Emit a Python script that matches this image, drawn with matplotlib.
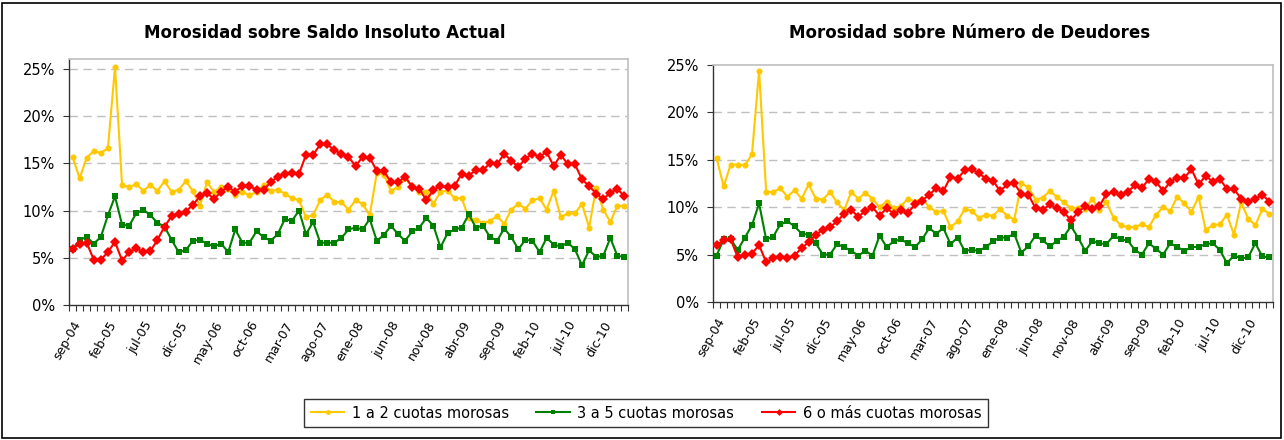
import matplotlib
matplotlib.use("Agg")
import matplotlib.pyplot as plt
from matplotlib.patches import Rectangle
from matplotlib.ticker import FixedLocator, PercentFormatter

# ---- data (percent), monthly sep-04 .. mar-11 ----
n_points = 79
tick_labels = ['sep-04', 'feb-05', 'jul-05', 'dic-05', 'may-06', 'oct-06', 'mar-07', 'ago-07',
               'ene-08', 'jun-08', 'nov-08', 'abr-09', 'sep-09', 'feb-10', 'jul-10', 'dic-10']

series_names = ['1 a 2 cuotas morosas', '3 a 5 cuotas morosas', '6 o más cuotas morosas']

saldo_1a2 = [15.7, 13.4, 15.6, 16.3, 16.1, 16.6, 25.2, 12.7, 12.5, 12.8, 12.1, 12.7, 12.1, 13.1, 12.0,
             12.2, 13.1, 12.1, 10.5, 13.0, 12.0, 12.5, 12.3, 11.7, 12.0, 11.6, 12.0, 12.7, 12.1, 12.2,
             11.8, 11.3, 11.1, 9.3, 9.5, 11.1, 11.7, 10.9, 10.9, 10.1, 11.1, 10.7, 9.5, 14.0, 13.8,
             12.1, 12.5, 13.4, 12.6, 12.0, 12.0, 10.7, 12.0, 12.1, 11.3, 11.3, 9.2, 9.0, 8.7, 8.9,
             9.4, 8.6, 10.1, 10.7, 10.2, 11.1, 11.3, 10.1, 12.1, 9.3, 9.7, 9.7, 10.7, 8.2, 12.4,
             10.1, 8.8, 10.5, 10.5]
saldo_3a5 = [5.9, 6.9, 7.2, 6.5, 7.2, 9.5, 11.5, 8.5, 8.4, 9.7, 10.1, 9.5, 8.7, 8.3, 6.9,
             5.6, 5.8, 6.8, 6.9, 6.5, 6.2, 6.5, 5.6, 8.0, 6.6, 6.6, 7.8, 7.2, 6.8, 7.5,
             9.1, 8.9, 10.0, 7.5, 8.8, 6.6, 6.6, 6.6, 7.1, 8.0, 8.2, 8.0, 9.1, 6.8, 7.4,
             8.4, 7.5, 6.8, 7.8, 8.2, 9.2, 8.4, 6.1, 7.6, 8.0, 8.2, 9.6, 8.2, 8.4, 7.2,
             6.8, 8.1, 7.2, 5.9, 6.9, 6.8, 5.6, 7.1, 6.4, 6.2, 6.6, 5.9, 4.2, 5.8, 5.1,
             5.2, 7.1, 5.2, 5.1]
saldo_6mas = [5.9, 6.5, 6.6, 4.8, 4.8, 5.6, 6.7, 4.7, 5.6, 6.0, 5.6, 5.7, 6.9, 8.3, 9.4,
              9.6, 9.9, 10.6, 11.5, 11.9, 11.2, 12.0, 12.5, 12.0, 12.6, 12.6, 12.2, 12.2, 13.0, 13.6,
              13.9, 14.0, 13.9, 15.9, 15.9, 17.0, 17.0, 16.4, 16.0, 15.7, 14.7, 15.7, 15.6, 14.2, 14.2,
              13.0, 13.0, 13.6, 12.5, 12.3, 11.1, 12.2, 12.6, 12.5, 12.6, 13.9, 13.7, 14.3, 14.3, 15.0,
              14.9, 16.0, 15.3, 14.6, 15.5, 16.0, 15.7, 16.2, 14.7, 15.9, 14.9, 14.9, 13.3, 12.6, 11.8,
              11.2, 11.9, 12.3, 11.5]

deud_1a2 = [15.2, 12.2, 14.5, 14.5, 14.4, 15.6, 24.4, 11.6, 11.6, 12.0, 11.1, 11.8, 10.9, 12.4, 10.9,
            10.8, 11.6, 10.5, 9.7, 11.6, 10.9, 11.5, 10.9, 10.0, 10.6, 9.9, 10.1, 10.9, 10.6, 10.9,
            10.0, 9.5, 9.6, 7.9, 8.5, 9.8, 9.6, 8.9, 9.2, 9.1, 9.8, 9.1, 8.7, 12.5, 12.1,
            10.8, 11.0, 11.7, 11.1, 10.5, 9.9, 9.9, 9.8, 10.9, 9.7, 10.5, 8.9, 8.1, 7.9, 7.9,
            8.2, 7.9, 9.2, 10.0, 9.6, 11.1, 10.4, 9.5, 11.1, 7.6, 8.1, 8.2, 9.2, 7.1, 10.5,
            8.8, 8.1, 9.8, 9.3]
deud_3a5 = [4.9, 6.6, 6.6, 5.5, 6.8, 8.1, 10.4, 6.6, 6.9, 8.2, 8.5, 8.0, 7.2, 7.1, 6.2,
            5.0, 5.0, 6.1, 5.8, 5.4, 4.9, 5.4, 4.9, 7.0, 5.8, 6.4, 6.6, 6.2, 5.8, 6.6,
            7.8, 7.2, 7.8, 6.1, 6.8, 5.4, 5.5, 5.4, 5.8, 6.4, 6.8, 6.8, 7.2, 5.2, 5.9,
            7.0, 6.5, 5.9, 6.4, 6.9, 8.0, 6.8, 5.4, 6.4, 6.2, 6.1, 7.0, 6.6, 6.5, 5.5,
            5.0, 6.2, 5.6, 5.0, 6.2, 5.8, 5.4, 5.8, 5.8, 6.1, 6.2, 5.5, 4.1, 4.9, 4.6,
            4.7, 6.2, 4.8, 4.7]
deud_6mas = [6.0, 6.5, 6.6, 4.7, 5.0, 5.1, 6.0, 4.2, 4.6, 4.7, 4.6, 4.9, 5.7, 6.3, 7.1,
             7.6, 7.9, 8.5, 9.3, 9.7, 9.0, 9.6, 10.0, 9.1, 9.9, 9.3, 9.7, 9.4, 10.3, 10.7,
             11.3, 12.0, 11.7, 13.2, 13.0, 13.9, 14.0, 13.6, 13.0, 12.8, 11.7, 12.4, 12.5, 11.4, 11.3,
             9.9, 9.7, 10.3, 9.9, 9.5, 8.6, 9.5, 10.1, 9.8, 10.1, 11.4, 11.6, 11.3, 11.6, 12.3,
             12.0, 13.0, 12.7, 11.7, 12.7, 13.1, 13.1, 14.0, 12.4, 13.3, 12.7, 13.0, 11.9, 11.9, 10.9,
             10.6, 10.9, 11.3, 10.6]

titles = ['Morosidad sobre Saldo Insoluto Actual', 'Morosidad sobre Número de Deudores']

colors = ['#FFC800', '#008000', '#FF0000']
markers = ['o', 's', 'D']
msizes = [4.4, 4.4, 4.6]

# ---- figure ----
W, H = 1284, 440
fig = plt.figure(figsize=(W / 100, H / 100), dpi=100)
plt.rcParams['font.family'] = ['DejaVu Sans']

x = list(range(n_points))


def ax_rect(x0, x1, ytop, ybot):
    return [x0 / W, 1 - ybot / H, (x1 - x0) / W, (ybot - ytop) / H]


ax_specs = [
    (ax_rect(69, 628, 59, 305), 26.05, [saldo_1a2, saldo_3a5, saldo_6mas]),
    (ax_rect(713, 1273, 65, 302), 25.0, [deud_1a2, deud_3a5, deud_6mas]),
]

axes = []
for rect, ytop, data in ax_specs:
    ax = fig.add_axes(rect)
    axes.append(ax)
    for vals, c, m, ms, name in zip(data, colors, markers, msizes, series_names):
        ax.plot(x, vals, color=c, marker=m, markersize=ms, linewidth=1.5,
                markeredgewidth=0, label=name, zorder=3)
    ax.set_xlim(-0.5, n_points - 0.5)
    ax.set_ylim(0, ytop)
    ax.yaxis.set_major_locator(FixedLocator([0, 5, 10, 15, 20, 25]))
    ax.yaxis.set_major_formatter(PercentFormatter(decimals=0))
    for g in [5, 10, 15, 20, 25]:
        if g < ytop - 0.05:
            ax.axhline(g, color='#BFBFBF', linewidth=1.0, linestyle=(0, (6, 4)), zorder=1)
    ax.set_xticks(list(range(0, 76, 5)))
    ax.set_xticklabels(tick_labels, rotation=60, ha='right', rotation_mode='anchor',
                       fontsize=9)
    ax.set_xticks([i - 0.5 for i in range(n_points + 1)], minor=True)
    ax.tick_params(axis='x', which='major', length=0, pad=10)
    ax.tick_params(axis='x', which='minor', length=4, width=0.8, direction='out', color='#333333')
    ax.tick_params(axis='y', which='major', length=4, width=0.8, direction='out',
                   labelsize=10.5, pad=6, color='#333333')
    for side in ['top', 'right']:
        ax.spines[side].set_color('#BFBFBF')
        ax.spines[side].set_linewidth(1.2)
    for side in ['left', 'bottom']:
        ax.spines[side].set_color('#333333')
        ax.spines[side].set_linewidth(1.0)

fig.text(325 / W, 1 - 33 / H, titles[0], ha='center', va='center', fontsize=12, fontweight='bold')
fig.text(970 / W, 1 - 33 / H, titles[1], ha='center', va='center', fontsize=12, fontweight='bold')

handles, labels = axes[0].get_legend_handles_labels()
leg = fig.legend(handles, labels, loc='center', bbox_to_anchor=(646 / W, 1 - 413 / H),
                 ncol=3, fontsize=10.5, frameon=True, fancybox=False, edgecolor='black',
                 handlelength=2.3, columnspacing=1.9, borderpad=0.45, handletextpad=0.5)
leg.get_frame().set_linewidth(1.0)
for h in leg.legend_handles:
    h.set_markersize(3.5)

fig.add_artist(Rectangle((2 / W, 2 / H), (W - 5) / W, (H - 5) / H, transform=fig.transFigure,
                         fill=False, edgecolor='black', linewidth=1.2))

fig.savefig('out.png', dpi=100)
